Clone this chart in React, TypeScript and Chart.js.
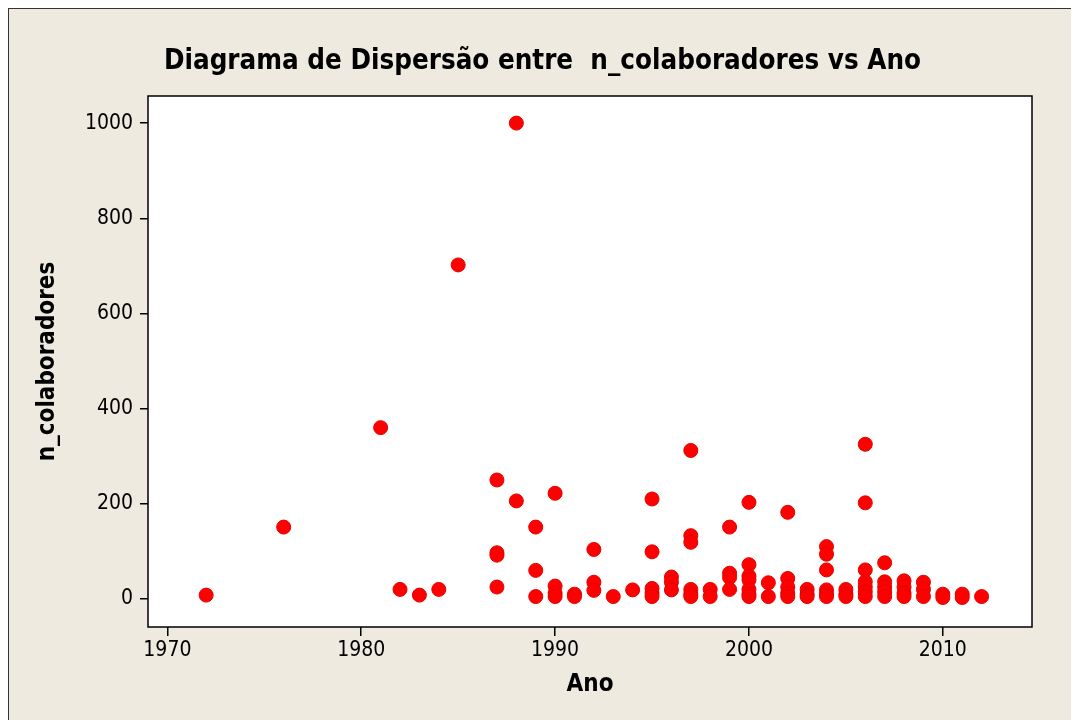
import React, { useEffect, useRef } from "react";
import { Chart, registerables } from "chart.js";

Chart.register(...registerables);

const tituloGrafico = "Diagrama de Dispersão entre  n_colaboradores vs Ano";
const tituloX = "Ano";
const tituloY = "n_colaboradores";

const anos: number[] = [
  1972,
  1976,
  1981,
  1982,
  1983,
  1984,
  1985,
  1987, 1987, 1987, 1987,
  1988, 1988,
  1989, 1989, 1989,
  1990, 1990, 1990, 1990,
  1991, 1991,
  1992, 1992, 1992,
  1993,
  1994,
  1995, 1995, 1995, 1995, 1995,
  1996, 1996, 1996,
  1997, 1997, 1997, 1997, 1997, 1997,
  1998, 1998,
  1999, 1999, 1999, 1999,
  2000, 2000, 2000, 2000, 2000, 2000, 2000,
  2001, 2001,
  2002, 2002, 2002, 2002, 2002,
  2003, 2003, 2003,
  2004, 2004, 2004, 2004, 2004, 2004,
  2005, 2005, 2005,
  2006, 2006, 2006, 2006, 2006, 2006, 2006,
  2007, 2007, 2007, 2007, 2007,
  2008, 2008, 2008, 2008,
  2009, 2009, 2009,
  2010, 2010,
  2011, 2011,
  2012,
];

const colaboradores: number[] = [
  8,
  151,
  360,
  20,
  8,
  20,
  702,
  250, 97, 92, 25,
  1000, 206,
  151, 60, 5,
  222, 27, 12, 5,
  10, 5,
  104, 35, 18,
  5,
  19,
  210, 99, 22, 12, 5,
  46, 35, 19,
  312, 133, 119, 20, 10, 5,
  20, 5,
  151, 54, 45, 20,
  203, 72, 48, 40, 20, 10, 5,
  34, 5,
  182, 43, 25, 12, 5,
  20, 10, 5,
  110, 94, 61, 19, 10, 5,
  20, 10, 5,
  325, 202, 61, 36, 25, 15, 5,
  76, 36, 25, 15, 5,
  38, 25, 12, 5,
  35, 20, 5,
  10, 3,
  10, 3,
  5,
];

const ticksX: number[] = [1970, 1980, 1990, 2000, 2010];
const ticksY: number[] = [0, 200, 400, 600, 800, 1000];

const FONT = "'DejaVu Sans Condensed', 'DejaVu Sans', sans-serif";

const plotAreaPlugin = {
  id: "plotArea",
  beforeDraw(chart: any) {
    const { ctx, chartArea } = chart;
    ctx.save();
    ctx.fillStyle = "#ffffff";
    ctx.fillRect(chartArea.left, chartArea.top, chartArea.right - chartArea.left, chartArea.bottom - chartArea.top);
    ctx.restore();
  },
  beforeDatasetsDraw(chart: any) {
    const { ctx, chartArea } = chart;
    ctx.save();
    ctx.strokeStyle = "#000000";
    ctx.lineWidth = 1.5;
    ctx.strokeRect(chartArea.left, chartArea.top, chartArea.right - chartArea.left, chartArea.bottom - chartArea.top);
    ctx.restore();
  },
};

export default function App() {
  const ref = useRef<HTMLCanvasElement | null>(null);

  useEffect(() => {
    if (!ref.current) return;
    const pontos = anos.map((a, i) => ({ x: a, y: colaboradores[i] }));
    const chart = new Chart(ref.current, {
      type: "scatter",
      data: {
        datasets: [
          {
            data: pontos,
            backgroundColor: "#ff0000",
            borderColor: "#e80000",
            borderWidth: 1,
            pointRadius: 7,
            pointHoverRadius: 7,
          },
        ],
      },
      options: {
        responsive: false,
        animation: false,
        layout: { padding: { left: 44, right: 47, top: 0, bottom: 0 } },
        plugins: {
          legend: { display: false },
          tooltip: { enabled: false },
          title: {
            display: true,
            text: tituloGrafico,
            color: "#000000",
            font: { family: FONT, size: 27.5, weight: "bold" },
            padding: { top: 36, bottom: 18 },
          },
        },
        scales: {
          x: {
            type: "linear",
            min: 1969,
            max: 2014.6,
            afterFit(scale: any) {
              scale.height = 93;
            },
            afterBuildTicks(scale: any) {
              scale.ticks = ticksX.map((v) => ({ value: v }));
            },
            border: { display: false },
            grid: {
              drawOnChartArea: false,
              drawTicks: true,
              tickLength: 9,
              color: "#000000",
              lineWidth: 1.5,
            },
            ticks: {
              includeBounds: false,
              color: "#000000",
              font: { family: FONT, size: 21 },
              padding: 2,
              maxRotation: 0,
              callback: (v: any) => String(v),
            },
            title: {
              display: true,
              text: tituloX,
              color: "#000000",
              font: { family: FONT, size: 24, weight: "bold" },
              padding: { top: 0, bottom: 21 },
            },
          },
          y: {
            type: "linear",
            min: -59,
            max: 1057,
            afterFit(scale: any) {
              scale.width = 95;
            },
            afterBuildTicks(scale: any) {
              scale.ticks = ticksY.map((v) => ({ value: v }));
            },
            border: { display: false },
            grid: {
              drawOnChartArea: false,
              drawTicks: true,
              tickLength: 8,
              color: "#000000",
              lineWidth: 1.5,
            },
            ticks: {
              includeBounds: false,
              color: "#000000",
              font: { family: FONT, size: 21 },
              padding: 7,
              callback: (v: any) => String(v),
            },
            title: {
              display: true,
              text: tituloY,
              color: "#000000",
              font: { family: FONT, size: 24, weight: "bold" },
              padding: { top: -20, bottom: 0 },
            },
          },
        },
      },
      plugins: [plotAreaPlugin],
    });
    return () => chart.destroy();
  }, []);

  return (
    <div
      style={{
        width: 1070,
        height: 711,
        background: "#eeeae0",
        borderTop: "1px solid #333333",
        borderLeft: "1px solid #333333",
        overflow: "hidden",
      }}
    >
      <canvas ref={ref} width={1070} height={711} style={{ display: "block" }} />
    </div>
  );
}
